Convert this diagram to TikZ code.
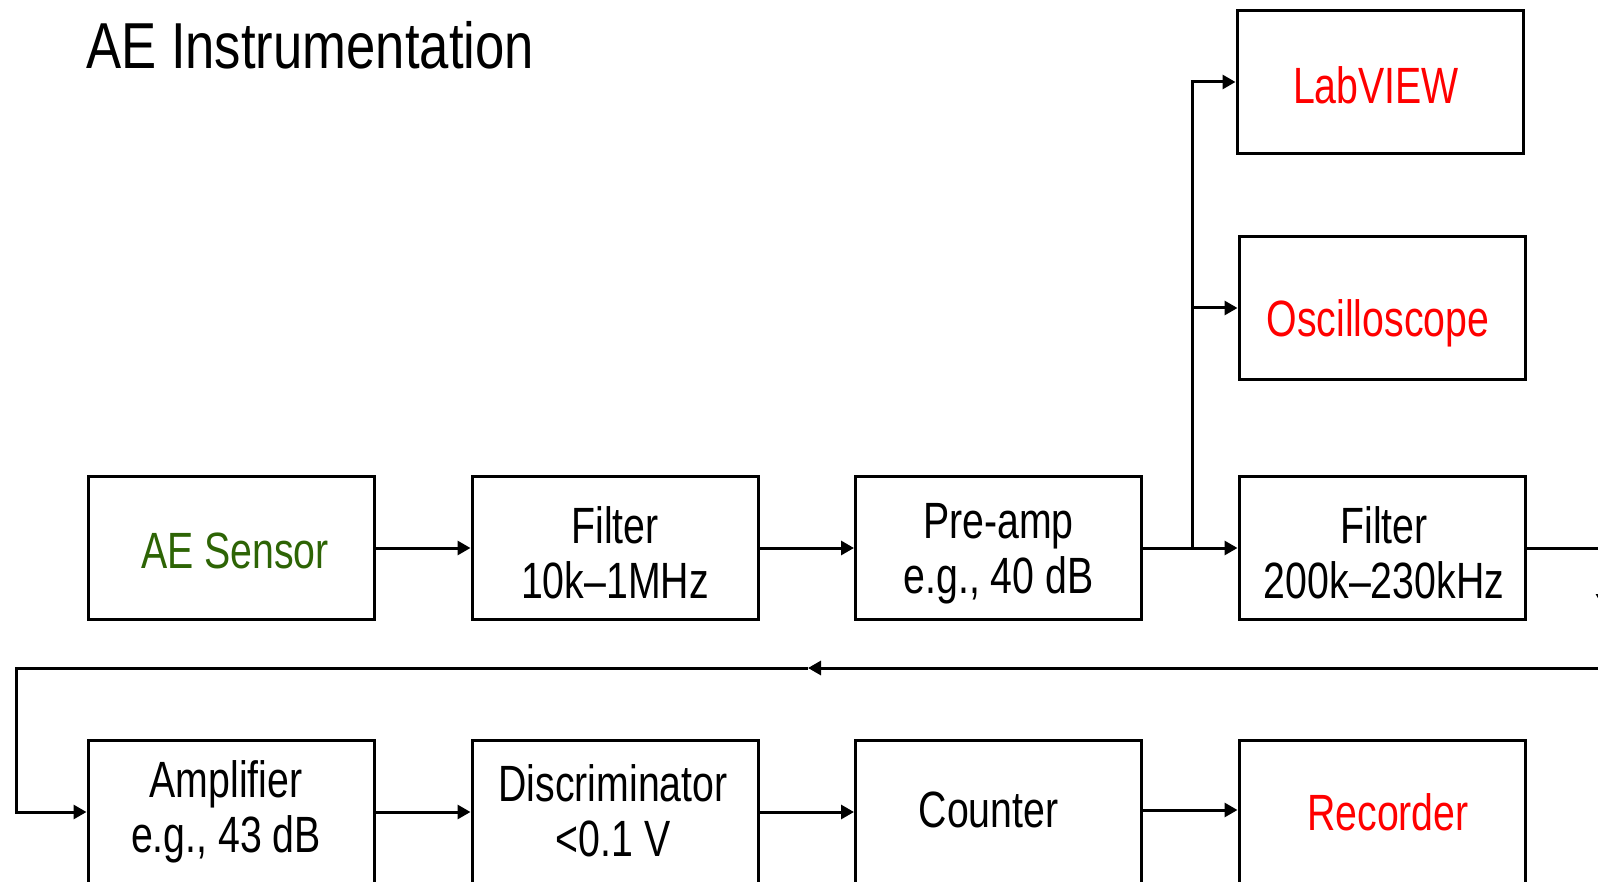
\documentclass[tikz,border=0pt]{standalone}
\usepackage{fontspec}
\setmainfont{Liberation Sans}[FakeStretch=0.77]
\newfontfamily\titlefont{Liberation Sans}[FakeStretch=0.81]
\usetikzlibrary{arrows.meta}
\definecolor{sensgreen}{RGB}{45,100,5}
\definecolor{pred}{RGB}{255,0,0}
\begin{document}
\begin{tikzpicture}[x=1pt,y=-1pt,
  blk/.style={draw=black,line width=3pt,rectangle,minimum width=286pt,minimum height=143pt,inner sep=0pt},
  lbl/.style={align=center,inner sep=0pt,font=\fontsize{51}{55}\selectfont},
  conn/.style={line width=3pt},
  arr/.style={line width=3pt,-{Triangle[length=13pt,width=14pt]}}]
\useasboundingbox (0,0) rectangle (1598,882);
\clip (0,0) rectangle (1598,882);
\node[anchor=base west,font=\titlefont\fontsize{65}{70}\selectfont,inner sep=0pt] (title) at (86,69) {AE Instrumentation};
% top row
\node[blk,label={[lbl,text=sensgreen,xshift=4pt,yshift=-3pt]center:AE Sensor}] (sensor) at (231,548) {};
\node[blk,label={[lbl,yshift=-5pt]center:{Filter\\10k–1MHz}}] (f1) at (615,548) {};
\node[blk,label={[lbl,yshift=-6pt]center:{Pre-amp\\e.g., 40 dB}}] (pre) at (998.5,548) {};
\node[blk,label={[lbl,xshift=2pt,yshift=-5pt]center:{Filter\\200k–230kHz}}] (f2) at (1382,548) {};
\node[blk,label={[lbl,text=pred,xshift=-4pt,yshift=-3pt]center:LabVIEW}] (lab) at (1380,82) {};
\node[blk,label={[lbl,text=pred,xshift=-4pt,yshift=-15pt]center:Oscilloscope}] (osc) at (1382,308) {};
% bottom row
\node[blk,label={[lbl,xshift=-5pt]center:{Amplifier\\e.g., 43 dB}}] (amp) at (231,812) {};
\node[blk,label={[lbl,xshift=-2pt,yshift=1pt]center:{Discriminator\\<0.1 V}}] (disc) at (615,812) {};
\node[blk,label={[lbl,xshift=-10pt,yshift=2pt]center:Counter}] (cnt) at (998.5,812) {};
\node[blk,label={[lbl,text=pred,xshift=6pt]center:Recorder}] (rec) at (1382,812) {};
% coordinates
\coordinate (br) at (1192,548);
\coordinate (ra) at (1603,548);
\coordinate (rb) at (1603,607);
\coordinate (rc) at (1603,668);
\coordinate (rm) at (808,668);
\coordinate (rl) at (16,668);
% connectors
\draw[arr] (sensor.east) -- (f1.west);
\draw[arr] (f1.east) -- (pre.west);
\draw[arr] (pre.east) -- (f2.west);
\draw[arr] (br) |- (lab.west);
\draw[arr] (br) |- (osc.west);
\draw[conn] (f2.east) -- (ra);
\draw[arr] (ra) -- (rb);
\draw[conn] (rb) -- (rc);
\draw[arr] (rc) -- (rm);
\draw[arr] (rm) -- (rl) |- (amp.west);
\draw[arr] (amp.east) -- (disc.west);
\draw[arr] (disc.east) -- (cnt.west);
\draw[arr] (cnt.east |- 0,810) -- (rec.west |- 0,810);
\end{tikzpicture}
\end{document}
